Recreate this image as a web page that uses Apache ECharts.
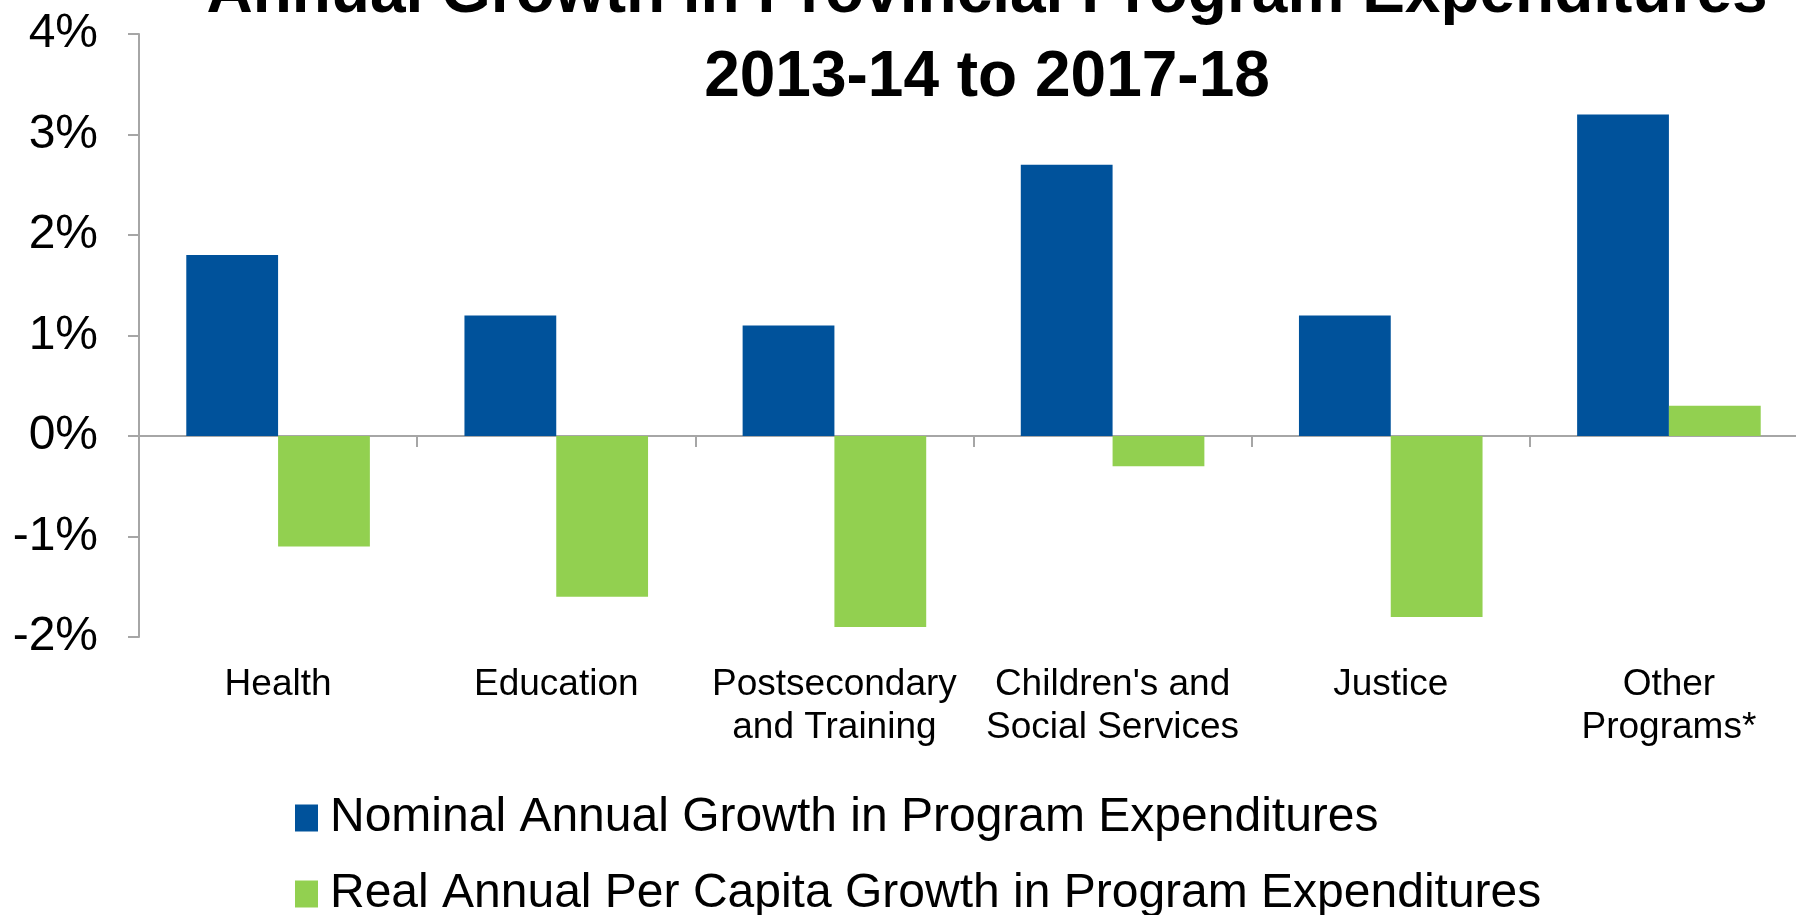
<!DOCTYPE html>
<html>
<head>
<meta charset="utf-8">
<style>
  html, body { margin: 0; padding: 0; background: #ffffff; }
  #chart { width: 1796px; height: 915px; }
</style>
<script src="https://cdn.jsdelivr.net/npm/echarts@6/dist/echarts.min.js"></script>
</head>
<body>
<div id="chart"></div>
<script>
// Spending categories and growth rates (percent)
const categories = [
  'Health',
  'Education',
  'Postsecondary\nand Training',
  "Children's and\nSocial Services",
  'Justice',
  'Other\nPrograms*'
];
const nominalGrowth = [1.8, 1.2, 1.1, 2.7, 1.2, 3.2];
const realPerCapitaGrowth = [-1.1, -1.6, -1.9, -0.3, -1.8, 0.3];
const seriesNames = [
  'Nominal Annual Growth in Program Expenditures',
  'Real Annual Per Capita Growth in Program Expenditures'
];
const titleLines = [
  'Annual Growth in Provincial Program Expenditures',
  '2013-14 to 2017-18'
];
const yMin = -2, yMax = 4, yStep = 1;

const FONT = "'Liberation Sans', Arial, sans-serif";
const AXIS_GREY = '#a6a6a6';

// one legend row per series, stacked under the plot
function legendRow(name, top) {
  return {
    orient: 'horizontal',
    left: 295,
    top: top,
    padding: 0,
    itemWidth: 23,
    itemHeight: 27,
    icon: 'rect',
    data: [name],
    textStyle: {
      fontFamily: FONT,
      fontSize: 48,
      lineHeight: 52,
      color: '#000000',
      padding: [0, 0, 0, 7]
    }
  };
}

const chart = echarts.init(document.getElementById('chart'), null, { renderer: 'canvas' });

chart.setOption({
  animation: false,
  backgroundColor: '#ffffff',
  color: ['#00529b', '#92d050'],
  graphic: [{
    type: 'text',
    x: 987,
    y: 36,
    style: {
      text: titleLines.join('\n'),
      fontFamily: FONT,
      fontSize: 64,
      fontWeight: 'bold',
      lineHeight: 84,
      fill: '#000000',
      align: 'center',
      verticalAlign: 'middle'
    }
  }],
  legend: [
    legendRow(seriesNames[0], 792),
    legendRow(seriesNames[1], 868)
  ],
  grid: {
    left: 139,
    width: 1669,
    top: 34,
    bottom: 278,
    containLabel: false,
    outerBoundsMode: 'none'
  },
  xAxis: [{
    // zero line with category separator ticks
    type: 'category',
    data: categories,
    axisLine: { onZero: true, lineStyle: { color: AXIS_GREY, width: 2 } },
    axisTick: { show: true, length: 11, inside: false, lineStyle: { color: AXIS_GREY, width: 2 } },
    axisLabel: { show: false },
    splitLine: { show: false }
  }, {
    // category names along the bottom of the plot
    type: 'category',
    data: categories,
    position: 'bottom',
    axisLine: { show: false, onZero: false },
    axisTick: { show: false },
    axisLabel: {
      show: true,
      interval: 0,
      margin: 26,
      fontFamily: FONT,
      fontSize: 37,
      lineHeight: 43,
      color: '#000000',
      verticalAlign: 'top'
    },
    splitLine: { show: false }
  }],
  yAxis: {
    type: 'value',
    min: yMin,
    max: yMax,
    interval: yStep,
    axisLine: { show: true, lineStyle: { color: AXIS_GREY, width: 2 } },
    axisTick: { show: true, length: 11, lineStyle: { color: AXIS_GREY, width: 2 } },
    axisLabel: {
      margin: 41,
      fontFamily: FONT,
      fontSize: 48,
      color: '#000000',
      formatter: '{value}%'
    },
    splitLine: { show: false }
  },
  series: [{
    name: seriesNames[0],
    type: 'bar',
    xAxisIndex: 0,
    data: nominalGrowth,
    barGap: '0%',
    barCategoryGap: '34%'
  }, {
    name: seriesNames[1],
    type: 'bar',
    xAxisIndex: 0,
    data: realPerCapitaGrowth,
    barGap: '0%',
    barCategoryGap: '34%'
  }]
});
</script>
</body>
</html>
